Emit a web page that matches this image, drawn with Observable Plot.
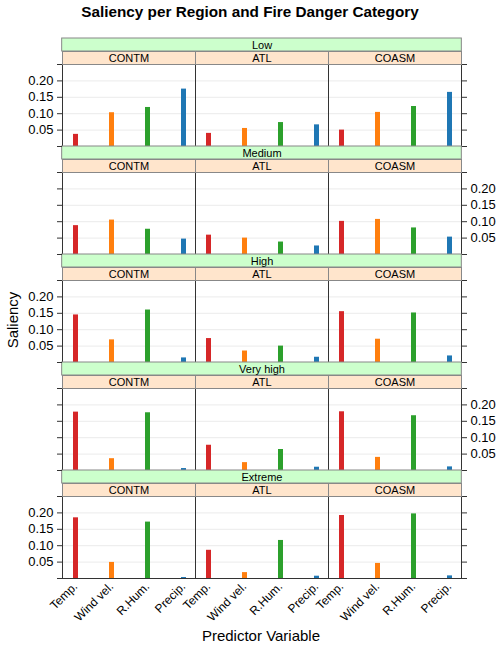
<!DOCTYPE html>
<html>
<head>
<meta charset="utf-8">
<script src="https://cdn.jsdelivr.net/npm/d3@7"></script>
<script src="https://cdn.jsdelivr.net/npm/@observablehq/plot@0.6"></script>
<style>
  html, body { margin: 0; padding: 0; background: #fff; }
  #wrap { position: relative; width: 500px; height: 648px; font-family: "Liberation Sans", Arial, Helvetica, sans-serif; color: #000; }
  #wrap svg { position: absolute; left: 0; top: 0; }
  .title { position: absolute; left: 0; width: 500px; top: 3px; text-align: center; font-weight: bold; font-size: 15.3px; }
  .xlab { position: absolute; left: 61px; width: 400px; top: 627px; text-align: center; font-size: 15px; }
  .ylab { position: absolute; left: 12px; top: 320px; font-size: 15px; transform: translate(-50%, -50%) rotate(-90deg); white-space: nowrap; }
</style>
</head>
<body>
<div id="wrap">
  <div class="title">Saliency per Region and Fire Danger Category</div>
  <div class="ylab">Saliency</div>
  <div class="xlab">Predictor Variable</div>
</div>
<script>
const regions = ["CONTM", "ATL", "COASM"];
const dangers = ["Low", "Medium", "High", "Very high", "Extreme"];
const variables = ["Temp.", "Wind vel.", "R.Hum.", "Precip."];
const colors = ["#d62728", "#ff7f0e", "#2ca02c", "#1f77b4"];
const yTicks = [0.05, 0.10, 0.15, 0.20];
const yTickMarks = [0, 0.05, 0.10, 0.15, 0.20, 0.25];

// values per danger level: [CONTM, ATL, COASM] x [Temp., Wind vel., R.Hum., Precip.]
const lowValues      = [[0.037, 0.103, 0.119, 0.175], [0.040, 0.055, 0.073, 0.066], [0.050, 0.104, 0.122, 0.165]];
const mediumValues   = [[0.088, 0.105, 0.077, 0.047], [0.059, 0.050, 0.038, 0.026], [0.101, 0.107, 0.081, 0.053]];
const highValues     = [[0.145, 0.069, 0.160, 0.014], [0.073, 0.035, 0.050, 0.016], [0.155, 0.071, 0.151, 0.020]];
const veryHighValues = [[0.178, 0.036, 0.176, 0.006], [0.077, 0.024, 0.064, 0.010], [0.179, 0.040, 0.167, 0.011]];
const extremeValues  = [[0.185, 0.049, 0.172, 0.003], [0.086, 0.018, 0.116, 0.007], [0.192, 0.046, 0.197, 0.008]];

const allValues = [lowValues, mediumValues, highValues, veryHighValues, extremeValues];

const data = [];
const panels = [];
dangers.forEach((danger, i) => {
  regions.forEach((region, j) => {
    panels.push({danger, region});
    variables.forEach((variable, k) => {
      data.push({danger, region, variable, value: allValues[i][j][k]});
    });
  });
});
const rowStrips = dangers.map(danger => ({danger, col: regions[1]}));
const tickLabels = [];
dangers.forEach((danger, i) => {
  yTicks.forEach(t => tickLabels.push({danger, side: i % 2 === 0 ? "left" : "right", col: i % 2 === 0 ? regions[0] : regions[2], y: t, label: t.toFixed(2)}));
});

const panelH = 82, stripH = 13;
const facetH = panelH + 2 * stripH;
const colW = (500 - 61 - 39) / 3;

const chart = Plot.plot({
  width: 500,
  height: 648,
  marginTop: 38,
  marginRight: 39,
  marginBottom: 70,
  marginLeft: 61,
  style: {fontFamily: "'Liberation Sans', Arial, Helvetica, sans-serif", fontSize: "11px", color: "#000", background: "transparent", overflow: "visible"},
  fx: {domain: regions, padding: 0, axis: null},
  fy: {domain: dangers, padding: 0, axis: null},
  x: {type: "point", domain: variables, padding: 0.3},
  y: {domain: [0, 0.25 * facetH / panelH]},
  color: {domain: variables, range: colors},
  marks: [
    Plot.gridY(yTicks, {stroke: "#ebebeb", strokeOpacity: 1}),
    Plot.ruleX(data, {fx: "region", fy: "danger", x: "variable", y: "value", stroke: "variable", strokeWidth: 5}),
    Plot.frame({stroke: "#333", insetTop: 2 * stripH}),
    Plot.frame({fill: "#ffe5cc", stroke: "#888", insetTop: stripH, insetBottom: panelH}),
    Plot.rect(rowStrips, {fx: "col", fy: "danger", fill: "#ccffcc", stroke: "#888", insetBottom: panelH + stripH, insetLeft: -colW, insetRight: -colW}),
    Plot.text(rowStrips, {fx: "col", fy: "danger", text: "danger", frameAnchor: "top", lineAnchor: "middle", dy: stripH / 2 + 0.5, fontSize: 11}),
    Plot.text(panels, {fx: "region", fy: "danger", text: "region", frameAnchor: "top", lineAnchor: "middle", dy: stripH * 1.5 + 0.5, fontSize: 11}),
    Plot.axisY({anchor: "left", ticks: yTickMarks, tickSize: 5, tickFormat: () => "", label: null, stroke: "#333"}),
    Plot.axisY({anchor: "right", ticks: yTickMarks, tickSize: 5, tickFormat: () => "", label: null, stroke: "#333"}),
    Plot.text(tickLabels.filter(d => d.side === "left"), {fx: "col", fy: "danger", y: "y", text: "label", frameAnchor: "left", dx: -9, textAnchor: "end", fontSize: 13}),
    Plot.text(tickLabels.filter(d => d.side === "right"), {fx: "col", fy: "danger", y: "y", text: "label", frameAnchor: "right", dx: 9, textAnchor: "start", fontSize: 13}),
    Plot.axisX({anchor: "bottom", tickRotate: -45, tickSize: 0, tickPadding: 6, label: null, fontSize: 12})
  ]
});
document.getElementById("wrap").prepend(chart);
</script>
</body>
</html>
